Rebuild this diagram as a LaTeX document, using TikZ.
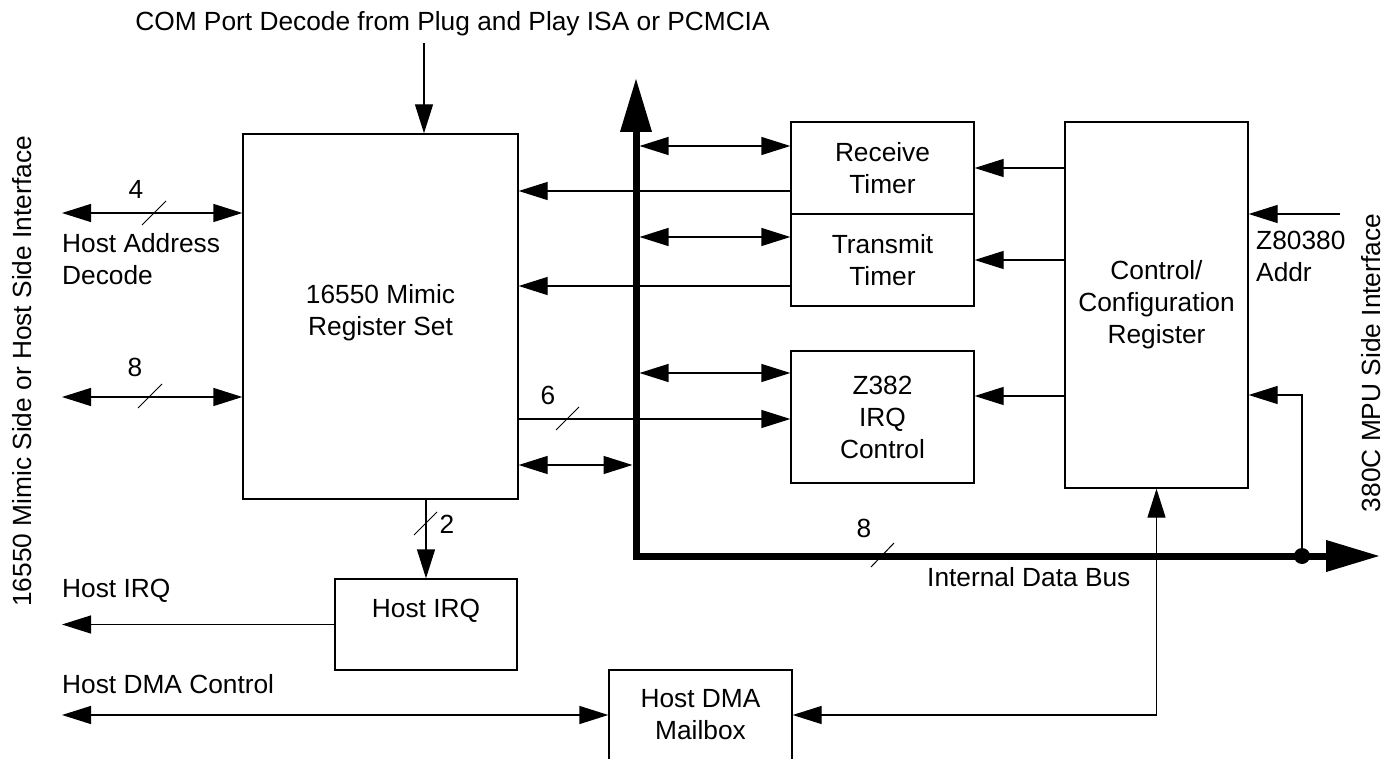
\documentclass[tikz,border=0pt]{standalone}
\usepackage{fontspec}
\setmainfont{Liberation Sans}
\usetikzlibrary{arrows.meta}

\begin{document}
\begin{tikzpicture}[x=1pt, y=-1pt,
    font=\fontsize{26.3}{32}\selectfont,
    bloc/.style={draw, line width=1.3pt, inner sep=0pt, align=center, minimum width=183pt},
    fleche/.style={line width=1.3pt, -{Triangle[length=29pt,width=18pt]}},
    dfleche/.style={line width=1.3pt, {Triangle[length=29pt,width=18pt]}-{Triangle[length=29pt,width=18pt]}},
    barre/.style={line width=1pt},
    lbl/.style={inner sep=0pt, anchor=base west},
    nb/.style={inner sep=0pt, anchor=base}]
    \useasboundingbox (0,0) rectangle (1393,759);

    % Blocs
    \node[bloc, minimum width=275pt, minimum height=365pt] (reg) at (380.5,316.5) {16550 Mimic\\Register Set\\[-18pt]\mbox{}};
    \node[bloc, minimum height=92pt] (rx) at (882.5,168) {Receive\\Timer};
    \node[bloc, minimum height=92pt] (tx) at (882.5,260) {Transmit\\Timer};
    \node[bloc, minimum height=132pt] (irqc) at (882.5,417) {Z382\\IRQ\\Control};
    \node[bloc, minimum height=366pt] (ctrl) at (1156.5,305) {Control/\\Configuration\\Register};
    \node[bloc, minimum width=182pt, minimum height=91pt] (hirq) at (426,624.5) {Host IRQ\\\mbox{}};
    \node[bloc, minimum height=90pt] (mbox) at (700.5,715) {Host DMA\\Mailbox};

    % Bus interne
    \coordinate (bush) at (636,78);
    \coordinate (busc) at (636,556);
    \coordinate (busd) at (1380,556);
    \coordinate (busg) at (632.5,0);
    \coordinate (busdr) at (639.5,0);
    \draw[line width=7pt, {Triangle[length=54pt,width=30pt]}-{Triangle[length=54pt,width=30pt]}] (bush) -- (busc) -- (busd);
    \draw[barre] (871,567) -- (894,543);
    \node[nb] (n8b) at (864,537) {8};
    \node[lbl] (bustxt) at (927,586) {Internal Data Bus};

    % Decodage COM
    \node[nb] (com) at (452.5,31) {COM Port Decode from Plug and Play ISA or PCMCIA};
    \coordinate (comin) at (424,43);
    \draw[fleche] (comin) -- (reg.north -| comin);

    % Cote hote
    \coordinate (haddr) at (62,213);
    \draw[dfleche] (haddr) -- (reg.west |- haddr);
    \draw[barre] (142,225) -- (166,201);
    \node[nb] (n4) at (136,199) {4};
    \node[lbl] (haddrtxt) at (62,253) {Host Address};
    \node[lbl] (haddrtxtb) at (62,285) {Decode};
    \coordinate (hdata) at (62,397);
    \draw[dfleche] (hdata) -- (reg.west |- hdata);
    \draw[barre] (138,408) -- (162,384);
    \node[nb] (n8) at (135,377) {8};

    % Registres <-> bus et timers
    \draw[fleche] (rx.west |- 0,191) -- (reg.east |- 0,191);
    \draw[fleche] (tx.west |- 0,286) -- (reg.east |- 0,286);
    \draw[fleche] (reg.east |- 0,419) -- (irqc.west |- 0,419);
    \draw[barre] (556,430) -- (579,407);
    \node[nb] (n6) at (548,405) {6};
    \draw[dfleche] (reg.east |- 0,465) -- (busg |- 0,465);
    \draw[dfleche] (busdr |- 0,146) -- (rx.west |- 0,146);
    \draw[dfleche] (busdr |- 0,237) -- (tx.west |- 0,237);
    \draw[dfleche] (busdr |- 0,373) -- (irqc.west |- 0,373);

    % Controle
    \draw[fleche] (ctrl.west |- rx.east) -- (rx.east);
    \draw[fleche] (ctrl.west |- tx.east) -- (tx.east);
    \draw[fleche] (ctrl.west |- 0,396) -- (irqc.east |- 0,396);
    \coordinate (zaddr) at (1340,214);
    \draw[fleche] (zaddr) -- (ctrl.east |- zaddr);
    \node[lbl] (ztxt) at (1256,250) {Z80380};
    \node[lbl] (ztxtb) at (1256,282) {Addr};
    \coordinate (point) at (1302,556);
    \fill (point) circle (8pt);
    \draw[fleche] (point) -- (point |- 0,395) -- (ctrl.east |- 0,395);

    % Host IRQ
    \draw[fleche] (reg.south -| hirq.north) -- (hirq.north);
    \draw[barre] (414,535) -- (437,512);
    \node[nb] (n2) at (447,533) {2};
    \coordinate (hirqout) at (62,625);
    \draw[fleche] (hirq.west) -- (hirqout |- hirq.west);
    \node[lbl] (hirqtxt) at (62,597) {Host IRQ};

    % DMA
    \coordinate (hdma) at (62,715);
    \draw[dfleche] (hdma) -- (mbox.west);
    \node[lbl] (hdmatxt) at (62,693) {Host DMA Control};
    \draw[dfleche] (mbox.east) -- (ctrl.south |- mbox.east) -- (ctrl.south);

    % Interfaces
    \node[rotate=90, inner sep=0pt] (gauche) at (22,371.5) {16550 Mimic Side or Host Side Interface};
    \node[rotate=90, inner sep=0pt] (droite) at (1371,363) {380C MPU Side Interface};
\end{tikzpicture}
\end{document}
